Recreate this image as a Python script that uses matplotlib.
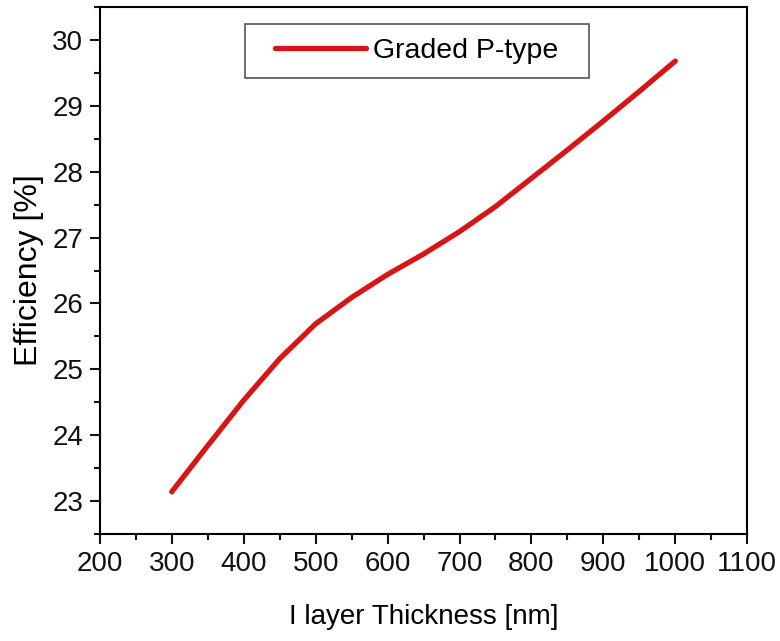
import matplotlib
matplotlib.use("Agg")
import matplotlib.pyplot as plt
from matplotlib.patches import Rectangle
from matplotlib.ticker import MultipleLocator

plt.rcParams['font.family'] = ['Liberation Sans', 'DejaVu Sans']

# values
thickness = [300, 350, 400, 450, 500, 550, 600, 650, 700, 750, 800, 850, 900, 950, 1000]
efficiency = [23.14, 23.84, 24.53, 25.16, 25.69, 26.09, 26.44, 26.75, 27.09,
              27.47, 27.90, 28.33, 28.77, 29.22, 29.68]

fig = plt.figure(figsize=(7.8, 6.41), dpi=100)
ax = fig.add_axes([0.128, 0.167, 0.830, 0.822])

ax.plot(thickness, efficiency, color='#d81414', lw=3.8,
        solid_capstyle='round', solid_joinstyle='round', label='Graded P-type')

ax.set_xlim(200, 1100)
ax.set_ylim(22.5, 30.5)
ax.xaxis.set_major_locator(MultipleLocator(100))
ax.xaxis.set_minor_locator(MultipleLocator(50))
ax.yaxis.set_major_locator(MultipleLocator(1))
ax.yaxis.set_minor_locator(MultipleLocator(0.5))

for s in ax.spines.values():
    s.set_linewidth(1.5)
ax.tick_params(which='both', direction='out', width=1.5, top=False, right=False,
               labelsize=20, colors='#111111')
ax.tick_params(which='major', length=7, pad=5)
ax.tick_params(which='minor', length=4)

ax.set_xlabel('I layer Thickness [nm]', fontsize=20, labelpad=20)
ax.set_ylabel('Efficiency [%]', fontsize=23, labelpad=6)

# legend box drawn separately so the padding matches the original
ax.add_patch(Rectangle((0.224, 0.865), 0.532, 0.103, transform=ax.transAxes,
                       facecolor='white', edgecolor='#555555', lw=1.2, zorder=4))
leg = ax.legend(loc='center left', bbox_to_anchor=(0.270, 0.917), borderaxespad=0,
                borderpad=0, fontsize=20.5, handlelength=3.2, handletextpad=0.25,
                frameon=False)
leg.set_zorder(5)

fig.savefig('out.png', dpi=100)
